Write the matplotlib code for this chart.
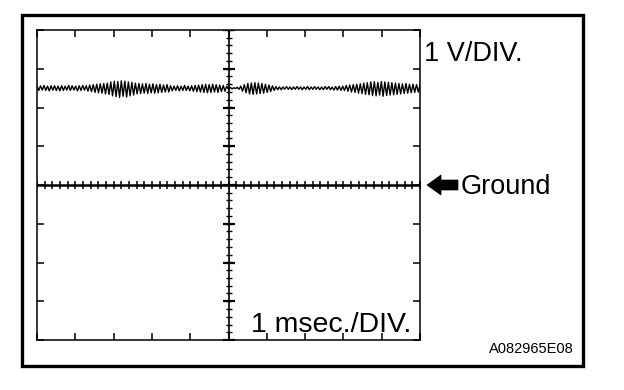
import numpy as np
import matplotlib
matplotlib.use("Agg")
from matplotlib import pyplot as plt
from matplotlib.patches import Rectangle, Polygon
from matplotlib.transforms import Affine2D

plt.rcParams['font.family'] = ['Liberation Sans', 'DejaVu Sans']

# scope settings: 10 divisions of 1 ms, 8 divisions of 1 V, ground at centre
t_divs = 10
v_divs = 8
dc_level = 2.5  # volts above ground

# ripple, in hundredths of a volt, left to right
ripple = [
    5, -6, 6, -5, 7, -6, 5, -7, 6, -5, 6, -6, 5, -7, 6, -6, 5, -5, 7, -6,
    6, -5, 5, -7, 6, -6, 7, -5, 6, -8,
    8, -9, 9, -11, 10, -12, 11, -13, 12, -15, 13, -16,
    16, -20, 18, -22, 17, -24, 19, -21, 18, -23, 16, -20, 15, -18,
    13, -15, 12, -14, 11, -13, 12, -14, 10, -12, 11, -13, 9, -12, 10, -11,
    8, -10, 9, -10,
    6, -7, 5, -6, 6, -7, 5, -6, 7, -6, 5, -7, 6, -8, 7, -9, 8,
    -10, 9, -11, 10, -12, 9, -11, 10, -10, 9, -11, 8, -9, 7, -8, 5,
    -3, 2, -2, 1, -1, 2, -3,
    5, -8, 9, -12, 12, -15, 13, -16, 14, -15, 13, -14, 12, -13, 10, -11,
    8, -9, 6, -6,
    4, -4, 3, -4, 3, -3, 4, -3, 3, -4, 3, -3, 4, -3, 3, -4, 3, -3, 4, -4,
    3, -3, 4, -3, 3, -4, 3, -4, 4, -3, 4, -4, 3, -5, 4, -5, 5, -6, 5, -6,
    7, -8, 8, -10, 9, -11, 10, -13, 11, -14, 13, -16, 14, -17,
    16, -19, 17, -20, 15, -18, 17, -21, 16, -19, 15, -18, 14, -17, 13, -16,
    12, -15, 11, -14, 12, -13, 10,
    -12, 10, -11, 9, -10, 8,
]

volts = dc_level + np.array(ripple) / 100.0
t = np.linspace(0, t_divs, len(volts))

W, H = 624, 390
fig = plt.figure(figsize=(W / 100, H / 100), dpi=100)

# pixel coords (origin top-left) -> figure
px = Affine2D().scale(1 / W, -1 / H).translate(0, 1) + fig.transFigure

# outer frame
fig.patches.append(Rectangle((22, 15), 561, 351, transform=px, fill=False,
                             lw=2.4, ec='black'))

ax = fig.add_axes([37 / W, 1 - 340 / H, 383 / W, 310 / H])
ax.set_xlim(0, t_divs)
ax.set_ylim(-v_divs / 2, v_divs / 2)
for s in ax.spines.values():
    s.set_linewidth(1.1)
ax.set_xticks(np.arange(0, t_divs + 1))
ax.set_yticks(np.arange(-v_divs / 2, v_divs / 2 + 1))
ax.tick_params(direction='in', length=5, width=1.1, top=True, right=True,
               labelbottom=False, labelleft=False)

# centre graticule
xc = t_divs / 2
ax.axhline(0, color='black', lw=1.8)
ax.axvline(xc, color='black', lw=1.2)
minor_x = np.arange(0, t_divs + 0.01, 0.2)
ax.plot(minor_x, np.zeros_like(minor_x), '|', color='black', ms=6, mew=1.1)
minor_y = np.arange(-v_divs / 2, v_divs / 2 + 0.01, 0.2)
ax.plot(np.full_like(minor_y, xc), minor_y, '_', color='black', ms=5, mew=1.0)
major_y = np.arange(-v_divs / 2, v_divs / 2 + 1)
ax.plot(np.full_like(major_y, xc), major_y, '_', color='black', ms=8, mew=1.6)

# signal
ax.plot(t, volts, color='black', lw=1.0)

# labels
fig.text(424, 61, '1 V/DIV.', transform=px, fontsize=19.5, va='baseline')
fig.text(461, 194, 'Ground', transform=px, fontsize=19.5, va='baseline')
fig.text(251, 332, '1 msec./DIV.', transform=px, fontsize=20.5, va='baseline')
fig.text(489, 353, 'A082965E08', transform=px, fontsize=10.5, va='baseline')

arrow = [(427, 185), (441, 175), (441, 180), (458, 180), (458, 190),
         (441, 190), (441, 195)]
fig.patches.append(Polygon(arrow, closed=True, transform=px, fc='black',
                           ec='black', lw=0.5))

fig.savefig('out.png', dpi=100)
